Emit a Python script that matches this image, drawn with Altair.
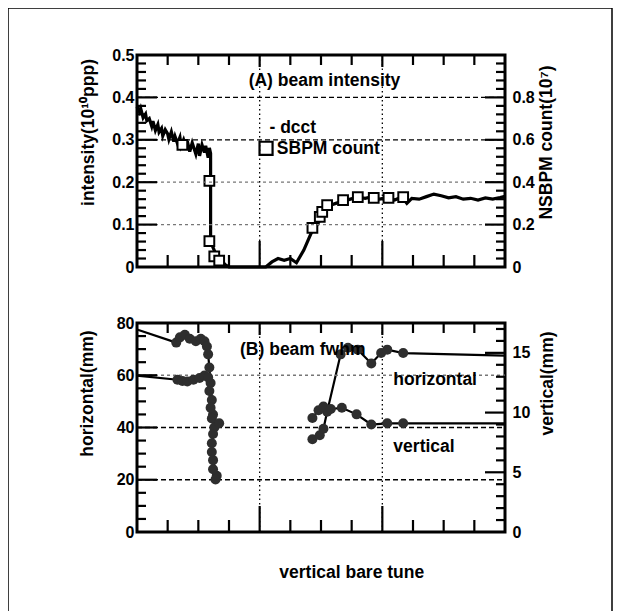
import altair as alt
import pandas as pd

FONT = "Liberation Sans"

# ---------------- data ----------------
# (A) beam intensity : DCCT (10^10 ppp, left axis)
dcct_t = [3.4900, 3.4902, 3.4903, 3.4905, 3.4907, 3.4908, 3.4910, 3.4912, 3.4913, 3.4915,
          3.4917, 3.4918, 3.4920, 3.4921, 3.4923, 3.4925, 3.4926, 3.4928, 3.4930, 3.4931,
          3.4933, 3.4935, 3.4936, 3.4938, 3.4940, 3.4941, 3.4943, 3.4945, 3.4946, 3.4948,
          3.4950, 3.4951, 3.4953, 3.4955, 3.4956, 3.4958, 3.4959, 3.4960,
          3.4960, 3.4960, 3.4964, 3.4968, 3.4972, 3.4975, 3.5005, 3.5010,
          3.5015, 3.5020, 3.5025, 3.5030, 3.5036, 3.5042, 3.5046, 3.5050, 3.5053, 3.5057,
          3.5062, 3.5068, 3.5074, 3.5080, 3.5086, 3.5092, 3.5098, 3.5104, 3.5110, 3.5116,
          3.5120, 3.5124, 3.5130, 3.5136, 3.5142, 3.5148, 3.5154, 3.5160, 3.5166, 3.5172,
          3.5178, 3.5184, 3.5190, 3.5196, 3.5200]
dcct_v = [0.378, 0.366, 0.374, 0.352, 0.361, 0.345, 0.350, 0.332, 0.344, 0.322,
          0.336, 0.318, 0.327, 0.309, 0.324, 0.314, 0.301, 0.319, 0.296, 0.308,
          0.291, 0.306, 0.286, 0.300, 0.281, 0.297, 0.272, 0.293, 0.284, 0.266,
          0.291, 0.262, 0.288, 0.270, 0.286, 0.258, 0.281, 0.268,
          0.200, 0.060, 0.032, 0.018, 0.005, 0.000, 0.000, 0.012,
          0.020, 0.016, 0.020, 0.010, 0.040, 0.080, 0.095, 0.115, 0.130, 0.145,
          0.150, 0.155, 0.160, 0.165, 0.162, 0.166, 0.160, 0.164, 0.158, 0.165,
          0.150, 0.162, 0.160, 0.166, 0.172, 0.168, 0.163, 0.166, 0.160, 0.162,
          0.158, 0.163, 0.160, 0.164, 0.167]

# SBPM count (10^7, right axis)
sbpm_t = [3.4937, 3.4959, 3.4959, 3.4963, 3.4967, 3.5043, 3.5049, 3.5051, 3.5055,
          3.5068, 3.5080, 3.5093, 3.5105, 3.5117]
sbpm_v = [0.576, 0.406, 0.122, 0.050, 0.030, 0.184, 0.236, 0.260, 0.292,
          0.316, 0.330, 0.326, 0.326, 0.330]

# (B) beam fwhm : horizontal (mm, left axis)
hor_t = [3.4900, 3.4932, 3.4935, 3.4939, 3.4943, 3.4948, 3.4952, 3.4955, 3.4957, 3.4958,
         3.4959, 3.4960, 3.4961, 3.4962, 3.4963, 3.4961, 3.4962, 3.4965,
         3.5043, 3.5049, 3.5052, 3.5055, 3.5066, 3.5072, 3.5080, 3.5091, 3.5099, 3.5104,
         3.5117, 3.5200]
hor_v = [77.5, 72.5, 74.5, 75.5, 74.0, 73.0, 74.0, 73.0, 71.0, 68.0,
         63.0, 57.0, 50.5, 45.0, 40.0, 34.0, 27.5, 21.5,
         35.5, 37.0, 39.5, 46.0, 68.0, 70.5, 69.8, 64.5, 68.5, 69.8,
         68.5, 67.5]
hor_mark = [0, 1, 1, 1, 1, 1, 1, 1, 1, 1,
            1, 1, 1, 1, 1, 1, 1, 1,
            1, 1, 1, 1, 1, 1, 1, 1, 1, 1,
            1, 0]
hor_seg = [0] * 18 + [1] * 12

# vertical (mm, right axis)
ver_t = [3.4900, 3.4933, 3.4937, 3.4941, 3.4946, 3.4951, 3.4955, 3.4958, 3.4959, 3.4960,
         3.4961, 3.4967, 3.4962, 3.4961, 3.4962, 3.4964,
         3.5043, 3.5048, 3.5052, 3.5058, 3.5067, 3.5079, 3.5091, 3.5104, 3.5117, 3.5200]
ver_v = [13.10, 12.75, 12.65, 12.60, 12.75, 12.90, 13.10, 12.95, 11.80, 10.40,
         9.50, 9.10, 8.20, 6.70, 5.25, 4.40,
         9.55, 10.20, 10.50, 10.30, 10.40, 9.85, 9.00, 9.10, 9.10, 9.10]
ver_mark = [0, 1, 1, 1, 1, 1, 1, 1, 1, 1,
            1, 1, 1, 1, 1, 1,
            1, 1, 1, 1, 1, 1, 1, 1, 1, 0]
ver_seg = [0] * 16 + [1] * 10

# axis labels / ticks
x_labels = [3.49, 3.5, 3.51, 3.52]
x_minor = [3.4925, 3.495, 3.4975, 3.5025, 3.505, 3.5075, 3.5125, 3.515, 3.5175]
x_major = [3.5, 3.51]
int_labels = [0, 0.1, 0.2, 0.3, 0.4, 0.5]
sbpm_labels = [0, 0.2, 0.4, 0.6, 0.8]
int_minor = [0.02, 0.04, 0.06, 0.08, 0.12, 0.14, 0.16, 0.18, 0.22, 0.24, 0.26, 0.28,
             0.32, 0.34, 0.36, 0.38, 0.42, 0.44, 0.46, 0.48]
int_major = [0.1, 0.2, 0.3, 0.4]
int_grid_dark = [0.3, 0.4]
int_grid_light = [0.1, 0.2]
hor_labels = [0, 20, 40, 60, 80]
ver_labels = [0, 5, 10, 15]
hor_minor = [5, 10, 15, 25, 30, 35, 45, 50, 55, 65, 70, 75]
hor_major = [20, 40, 60]
ver_minor = [1, 2, 3, 4, 6, 7, 8, 9, 11, 12, 13, 14, 16, 17]
ver_major = [5, 10, 15]
hor_grid_dark = [20, 40]
hor_grid_light = [60]
x_grid = [3.5, 3.51]

# annotations (data coordinates, left axis units)
ann_top_label = ["(A) beam intensity", "- dcct", "SBPM count"]
ann_top_t = [3.4991, 3.5008, 3.5014]
ann_top_v = [0.439, 0.328, 0.278]
legend_sq_t = [3.50052]
legend_sq_v = [0.280]
ann_bot_label = ["(B) beam fwhm", "horizontal", "vertical", "vertical bare tune"]
ann_bot_t = [3.4984, 3.5109, 3.5109, 3.5016]
ann_bot_v = [69.7, 58.2, 32.5, -15.7]

# ---------------- layout ----------------
W = 368
H_TOP = 212
H_BOT = 209
XDOM = [3.49, 3.52]
TICK_W = 2.2
ANN_SIZE = 17.5


def xs():
    return alt.Scale(domain=XDOM, nice=False, zero=False)


def df(**cols):
    return pd.DataFrame(cols)


def hidden_x():
    return alt.X("t:Q", scale=xs(), axis=None)


def hidden_y(dom):
    return alt.Y("v:Q", scale=alt.Scale(domain=dom, nice=False, zero=False), axis=None)


def hrules(vals, dom, x0, x1, color="black", width=TICK_W, dash=None):
    kw = dict(color=color, strokeWidth=width)
    if dash is not None:
        kw["strokeDash"] = dash
    return alt.Chart(df(v=vals)).mark_rule(**kw).encode(
        y=hidden_y(dom), x=alt.value(x0), x2=alt.value(x1))


def vrules(vals, y0, y1, color="black", width=TICK_W, dash=None):
    kw = dict(color=color, strokeWidth=width)
    if dash is not None:
        kw["strokeDash"] = dash
    return alt.Chart(df(t=vals)).mark_rule(**kw).encode(
        x=hidden_x(), y=alt.value(y0), y2=alt.value(y1))


def text_layer(labels, ts, vs, dom):
    return alt.Chart(df(t=ts, v=vs, label=labels)).mark_text(
        align="left", baseline="middle", font=FONT, fontSize=ANN_SIZE, fontWeight="bold",
        color="black", clip=False).encode(x=hidden_x(), y=hidden_y(dom), text="label:N")


def x_axis():
    return alt.Axis(values=x_labels, format="~g", grid=False, ticks=False, domain=False,
                    labelFlush=False, labelOverlap=False, labelPadding=3, title=None)


# ---------------- top panel ----------------
INT_DOM = [0, 0.5]
SB_DOM = [0, 1.0]

dcct_df = df(t=dcct_t, v=dcct_v, i=list(range(len(dcct_t))))
dcct_line = alt.Chart(dcct_df).mark_line(color="black", strokeWidth=3.2).encode(
    x=alt.X("t:Q", scale=xs(), axis=x_axis()),
    y=alt.Y("v:Q", scale=alt.Scale(domain=INT_DOM, nice=False, zero=False),
            axis=alt.Axis(values=int_labels, format="~g", grid=False, ticks=False,
                          domain=False, labelPadding=3,
                          title="intensity(10¹⁰ppp)", titleX=-49, titleY=77,
                          titleAngle=270, titleAlign="center", titleBaseline="middle")),
    order="i:Q")

sbpm_pts = alt.Chart(df(t=sbpm_t, v=sbpm_v)).mark_point(
    shape="square", filled=True, fill="white", stroke="black", strokeWidth=2,
    size=95, opacity=1).encode(
    x=alt.X("t:Q", scale=xs(), axis=x_axis()),
    y=alt.Y("v:Q", scale=alt.Scale(domain=SB_DOM, nice=False, zero=False),
            axis=alt.Axis(orient="right", values=sbpm_labels, format="~g", grid=False,
                          ticks=False, domain=False, labelPadding=7,
                          title="NSBPM count(10⁷)", titleX=41, titleY=87,
                          titleAngle=270, titleAlign="center", titleBaseline="middle")))

legend_sq = alt.Chart(df(t=legend_sq_t, v=legend_sq_v)).mark_point(
    shape="square", filled=False, stroke="black", strokeWidth=2.2, size=170,
    opacity=1).encode(x=hidden_x(), y=hidden_y(INT_DOM))

frame = alt.Chart(alt.Data(values=[{}])).mark_rect(
    fill="transparent", stroke="black", strokeWidth=1.5, clip=False).encode(
    x=alt.value(-129), x2=alt.value(475), y=alt.value(-47), y2=alt.value(570))

top_layers = [
    dcct_line,
    sbpm_pts,
    hrules(int_grid_dark, INT_DOM, 0, W, width=1.3, dash=[5, 3]),
    hrules(int_grid_light, INT_DOM, 0, W, color="#777777", width=1.3, dash=[3, 3]),
    vrules(x_grid, 0, H_TOP, width=1.3, dash=[1.5, 3]),
    hrules(int_minor, INT_DOM, 0, 9),
    hrules(int_major, INT_DOM, 0, 20),
    hrules(int_minor, INT_DOM, W - 9, W),
    hrules(int_major, INT_DOM, W - 20, W),
    vrules(x_minor, 0, 10),
    vrules(x_major, 0, 12),
    vrules(x_minor, H_TOP - 12, H_TOP),
    vrules(x_major, H_TOP - 26, H_TOP),
    text_layer(ann_top_label, ann_top_t, ann_top_v, INT_DOM),
    legend_sq,
    frame,
]
top = alt.layer(*top_layers).resolve_scale(y="independent").properties(
    width=W, height=H_TOP)

# ---------------- bottom panel ----------------
HOR_DOM = [0, 80]
VER_DOM = [0, 17.5]

hor_df = df(t=hor_t, v=hor_v, m=hor_mark, seg=hor_seg, i=list(range(len(hor_t))))
ver_df = df(t=ver_t, v=ver_v, m=ver_mark, seg=ver_seg, i=list(range(len(ver_t))))

hor_line = alt.Chart(hor_df).mark_line(color="black", strokeWidth=2.2).encode(
    x=alt.X("t:Q", scale=xs(), axis=x_axis()),
    y=alt.Y("v:Q", scale=alt.Scale(domain=HOR_DOM, nice=False, zero=False),
            axis=alt.Axis(values=hor_labels, format="d", grid=False, ticks=False,
                          domain=False, labelPadding=3,
                          title="horizontal(mm)", titleX=-50, titleY=70,
                          titleAngle=270, titleAlign="center", titleBaseline="middle")),
    detail="seg:N", order="i:Q")

ver_line = alt.Chart(ver_df).mark_line(color="black", strokeWidth=2.2).encode(
    x=alt.X("t:Q", scale=xs(), axis=x_axis()),
    y=alt.Y("v:Q", scale=alt.Scale(domain=VER_DOM, nice=False, zero=False),
            axis=alt.Axis(orient="right", values=ver_labels, format="d", grid=False,
                          ticks=False, domain=False, labelPadding=7,
                          title="vertical(mm)", titleX=42, titleY=60,
                          titleAngle=270, titleAlign="center", titleBaseline="middle")),
    detail="seg:N", order="i:Q")

hor_pts = alt.Chart(hor_df).transform_filter("datum.m == 1").mark_circle(
    color="#2e2e2e", size=100, opacity=1).encode(x=hidden_x(), y=hidden_y(HOR_DOM))
ver_pts = alt.Chart(ver_df).transform_filter("datum.m == 1").mark_circle(
    color="#2e2e2e", size=100, opacity=1).encode(x=hidden_x(), y=hidden_y(VER_DOM))

bot_layers = [
    hor_line,
    ver_line,
    hrules(hor_grid_dark, HOR_DOM, 0, W, width=1.3, dash=[5, 3]),
    hrules(hor_grid_light, HOR_DOM, 0, W, color="#777777", width=1.3, dash=[3, 3]),
    vrules(x_grid, 0, H_BOT, width=1.3, dash=[1.5, 3]),
    hor_pts,
    ver_pts,
    hrules(hor_minor, HOR_DOM, 0, 9),
    hrules(hor_major, HOR_DOM, 0, 20),
    hrules(ver_minor, VER_DOM, W - 9, W),
    hrules(ver_major, VER_DOM, W - 20, W),
    vrules(x_minor, 0, 10),
    vrules(x_major, 0, 12),
    vrules(x_minor, H_BOT - 12, H_BOT),
    vrules(x_major, H_BOT - 26, H_BOT),
    text_layer(ann_bot_label, ann_bot_t, ann_bot_v, HOR_DOM),
]
bottom = alt.layer(*bot_layers).resolve_scale(y="independent").properties(
    width=W, height=H_BOT)

chart = alt.vconcat(top, bottom, spacing=56, bounds="flush").properties(
    padding={"left": -3, "top": -3, "right": 0, "bottom": 0}, background="white"
).configure_view(stroke="black", strokeWidth=3).configure_axis(
    labelFont=FONT, labelFontSize=16, labelFontWeight="bold", labelColor="black",
    titleFont=FONT, titleFontSize=17.5, titleFontWeight="bold", titleColor="black")

chart.save("out.html", embed_options={"renderer": "svg", "actions": False})
